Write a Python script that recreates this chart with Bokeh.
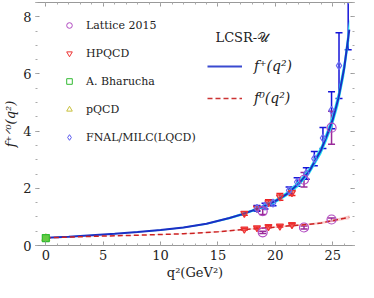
from bokeh.plotting import figure
from bokeh.models import (ColumnDataSource, Whisker, TeeHead, Legend, LegendItem, Label,
                          LinearAxis, Range1d, SingleIntervalTicker, CustomJSTickFormatter)
from bokeh.embed import file_html
from bokeh.resources import INLINE

# ---- data ----
curve_q2 = [0, 2, 4, 6, 8, 10, 12, 14, 16, 17, 18, 19, 20, 21, 22, 23, 24, 24.5, 25, 25.5, 26, 26.45]
fplus = [0.27, 0.31, 0.36, 0.41, 0.47, 0.54, 0.63, 0.76, 0.96, 1.08, 1.22, 1.37, 1.55, 1.80, 2.15, 2.62,
         3.35, 3.85, 4.40, 5.15, 6.20, 7.55]
fplus_err = [0.01, 0.01, 0.012, 0.014, 0.016, 0.02, 0.024, 0.03, 0.04, 0.045, 0.05, 0.06, 0.07, 0.08,
             0.1, 0.12, 0.16, 0.19, 0.22, 0.26, 0.31, 0.38]

f0_q2 = [0, 4, 8, 12, 15, 17, 19, 20, 21, 22, 23, 24, 25, 26, 26.45]
fzero = [0.27, 0.32, 0.36, 0.41, 0.48, 0.55, 0.61, 0.64, 0.68, 0.71, 0.74, 0.79, 0.87, 0.95, 0.99]
fzero_err = [0.005, 0.008, 0.01, 0.012, 0.015, 0.018, 0.02, 0.022, 0.025, 0.03, 0.035, 0.04, 0.05, 0.06, 0.07]

lat_q2 = [18.9, 22.5, 24.9]
lat_fp = [1.20, 2.30, 4.12]
lat_fp_err = [0.12, 0.25, 0.58]
lat_f0 = [0.46, 0.63, 0.91]
lat_f0_err = [0.04, 0.05, 0.05]

hp_q2 = [17.3, 18.4, 19.4, 20.4, 21.45]
hp_fp = [1.12, 1.30, 1.50, 1.70, 1.85]
hp_fp_err = [0.06, 0.08, 0.10, 0.12, 0.10]
hp_f0 = [0.57, 0.62, 0.66, 0.68, 0.73]
hp_f0_err = [0.03, 0.03, 0.03, 0.03, 0.03]

bh_q2 = [0.0]
bh_f = [0.26]
bh_err = [0.03]

pq_q2 = [0.0]
pq_f = [0.25]

fn_q2 = [18.4, 19.1, 19.8, 21.2, 21.9, 22.7, 23.4, 24.15, 24.9, 25.55, 26.35]
fn_fp = [1.30, 1.38, 1.48, 1.93, 2.22, 2.52, 3.04, 3.76, 4.73, 6.29, 8.6]
fn_fp_err = [0.10, 0.10, 0.09, 0.12, 0.15, 0.20, 0.25, 0.37, 0.65, 1.15, 1.75]

F_S = "DejaVu Serif"

p = figure(width=358, height=282, output_backend="svg", toolbar_location=None,
           x_range=Range1d(-0.9, 26.9), y_range=Range1d(0, 8.5),
           min_border_left=32, min_border_right=4, min_border_top=2, min_border_bottom=32)
p.xgrid.visible = False
p.ygrid.visible = False
p.outline_line_color = None


def style_axis(ax, labels=True, line=True):
    ax.major_tick_in = 4
    ax.major_tick_out = 0
    ax.minor_tick_in = 2
    ax.minor_tick_out = 0
    ax.major_tick_line_color = "#999999"
    ax.minor_tick_line_color = "#aaaaaa"
    ax.axis_line_color = "#999999" if line else None
    ax.major_label_text_font = F_S
    ax.major_label_text_font_size = "13px"
    ax.major_label_text_color = "#222222"
    ax.axis_label_text_font = F_S
    ax.axis_label_text_font_size = "13px"
    ax.axis_label_text_font_style = "normal"
    ax.axis_label_text_color = "#222222"
    if not labels:
        ax.formatter = CustomJSTickFormatter(code="return ''")
        ax.major_label_text_color = None


p.xaxis.ticker = SingleIntervalTicker(interval=5, num_minor_ticks=5)
p.yaxis.ticker = SingleIntervalTicker(interval=2, num_minor_ticks=4)
style_axis(p.xaxis[0])
style_axis(p.yaxis[0], line=False)
p.xaxis.axis_label = "q²(GeV²)"
p.xaxis.axis_label_standoff = 2
p.xaxis.major_label_standoff = 4
p.yaxis.axis_label = "f⁺ᐟ⁰(q²)"
p.yaxis.axis_label_text_font_style = "italic"
p.yaxis.axis_label_standoff = 2
p.yaxis.major_label_standoff = 4

top = LinearAxis(ticker=SingleIntervalTicker(interval=5, num_minor_ticks=5))
right = LinearAxis(ticker=SingleIntervalTicker(interval=2, num_minor_ticks=4))
style_axis(top, labels=False)
style_axis(right, labels=False, line=False)
p.add_layout(top, "above")
p.add_layout(right, "right")

cs = ColumnDataSource(dict(x=curve_q2, y=fplus,
                           lo=[a - b for a, b in zip(fplus, fplus_err)],
                           hi=[a + b for a, b in zip(fplus, fplus_err)]))
zs = ColumnDataSource(dict(x=f0_q2, y=fzero,
                           lo=[a - b for a, b in zip(fzero, fzero_err)],
                           hi=[a + b for a, b in zip(fzero, fzero_err)]))
p.varea(x="x", y1="lo", y2="hi", source=cs, fill_color="#22e6f2", fill_alpha=1.0)
p.varea(x="x", y1="lo", y2="hi", source=zs, fill_color="#f6b8b8", fill_alpha=0.7)
p.line("x", "y", source=cs, line_color="#1c2fc4", line_width=2)
p.line("x", "y", source=zs, line_color="#cc2222", line_width=1.5, line_dash="5 3")


def errbars(xs, ys, es, color):
    src = ColumnDataSource(dict(x=xs, lo=[a - b for a, b in zip(ys, es)], hi=[a + b for a, b in zip(ys, es)]))
    w = Whisker(base="x", lower="lo", upper="hi", source=src, dimension="height",
                line_color=color, line_width=1.5,
                lower_head=TeeHead(size=7, line_color=color, line_width=1.5),
                upper_head=TeeHead(size=7, line_color=color, line_width=1.5))
    p.add_layout(w)


errbars(hp_q2, hp_fp, hp_fp_err, "#ee2222")
errbars(hp_q2, hp_f0, hp_f0_err, "#ee2222")
errbars(fn_q2, fn_fp, fn_fp_err, "#1515d8")
errbars(lat_q2, lat_fp, lat_fp_err, "#9a2a9a")
errbars(lat_q2, lat_f0, lat_f0_err, "#9a2a9a")
errbars(bh_q2, bh_f, bh_err, "#33bb33")

p.scatter(hp_q2 + hp_q2, hp_fp + hp_f0, marker="inverted_triangle", size=7,
          line_color="#ee3333", fill_color="#ee3333", fill_alpha=0.5, line_width=1.2)
p.scatter(fn_q2, fn_fp, marker="diamond", size=8, line_color="#6a6af0",
          fill_color=None, line_width=1.2)
p.scatter(lat_q2 + lat_q2, lat_fp + lat_f0, marker="circle", size=9,
          line_color="#b048c0", fill_color=None, line_width=1.2)
p.scatter(pq_q2, pq_f, marker="triangle", size=8, line_color="#c8c03a",
          fill_color=None, line_width=1.2)
p.scatter(bh_q2, bh_f, marker="square", size=7, line_color="#33bb33",
          fill_color="#66cc44", line_width=1.2)

g_lat = p.scatter([-10], [-10], marker="circle", size=9, line_color="#b048c0", fill_color=None)
g_hp = p.scatter([-10], [-10], marker="inverted_triangle", size=8, line_color="#ee3333", fill_color=None)
g_bh = p.scatter([-10], [-10], marker="square", size=8, line_color="#33bb33", fill_color=None)
g_pq = p.scatter([-10], [-10], marker="triangle", size=8, line_color="#c8c03a", fill_color=None)
g_fn = p.scatter([-10], [-10], marker="diamond", size=9, line_color="#5a5af0", fill_color=None)

leg1 = Legend(items=[LegendItem(label="Lattice 2015", renderers=[g_lat]),
                     LegendItem(label="HPQCD", renderers=[g_hp]),
                     LegendItem(label="A. Bharucha", renderers=[g_bh]),
                     LegendItem(label="pQCD", renderers=[g_pq]),
                     LegendItem(label="FNAL/MILC(LQCD)", renderers=[g_fn])],
              location=(27, 101), padding=0, spacing=14, glyph_width=14, glyph_height=14,
              label_height=14, label_standoff=10, border_line_color=None,
              background_fill_alpha=0, label_text_font=F_S, label_text_font_size="11px",
              label_text_color="#222222")
p.add_layout(leg1)

g_l1 = p.line([-10, -9], [-10, -10], line_color="#3a4ad0", line_width=2)
g_l2 = p.line([-10, -9], [-10, -10], line_color="#cc3333", line_width=1.5, line_dash="5 3")
leg2 = Legend(items=[LegendItem(label="f⁺(q²)", renderers=[g_l1]),
                     LegendItem(label="f⁰(q²)", renderers=[g_l2])],
              location=(172, 138), padding=0, spacing=14, glyph_width=35, glyph_height=18,
              label_height=18, label_standoff=12, border_line_color=None,
              background_fill_alpha=0, label_text_font=F_S, label_text_font_size="14px",
              label_text_font_style="italic", label_text_color="#222222")
p.add_layout(leg2)

p.add_layout(Label(x=180, y=248 - 40, x_units="screen", y_units="screen", text="LCSR-𝒰",
                   text_font=F_S, text_font_size="13px", text_color="#222222",
                   text_baseline="middle"))

open("out.html", "w").write(file_html(p, INLINE))
